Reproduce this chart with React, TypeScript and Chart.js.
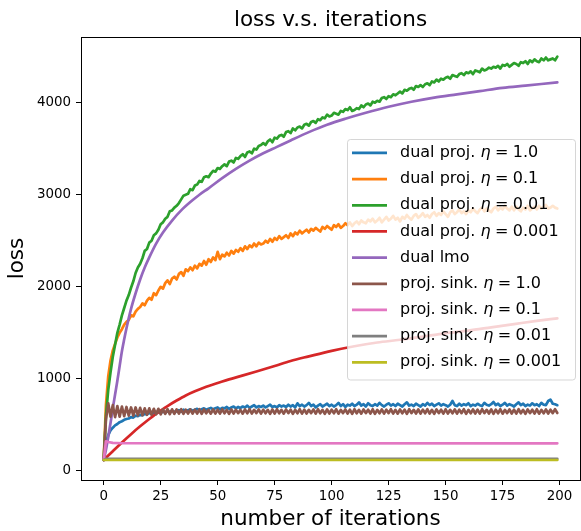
import React, { useEffect, useRef } from "react";
import { Chart, registerables } from "chart.js";

Chart.register(...registerables);

// ---------------- data ----------------
const iterations: number[] = Array.from({ length: 200 }, (_, i) => i);

const xTicks = [0, 25, 50, 75, 100, 125, 150, 175, 200];
const yTicks = [0, 1000, 2000, 3000, 4000];

// dual proj. eta = 1.0 (blue)
const dualProj1 = [
  120, 300, 390, 440, 470, 495, 510, 530, 540, 555,
  565, 570, 585, 580, 600, 595, 610, 605, 620, 615,
  630, 620, 635, 625, 640, 630, 645, 635, 650, 640,
  655, 640, 650, 660, 645, 665, 650, 660, 670, 655,
  665, 675, 660, 670, 680, 665, 675, 685, 670, 680,
  690, 670, 685, 680, 695, 675, 690, 700, 680, 695,
  685, 700, 690, 710, 685, 700, 715, 690, 705, 695,
  710, 690, 705, 720, 695, 705, 690, 715, 700, 710,
  695, 720, 700, 715, 690, 735, 705, 720, 700, 715,
  740, 705, 720, 690, 710, 725, 700, 715, 730, 705,
  720, 700, 715, 740, 705, 725, 695, 720, 710, 730,
  705, 720, 745, 710, 725, 700, 735, 715, 705, 725,
  710, 740, 715, 700, 720, 735, 710, 725, 705, 730,
  715, 700, 725, 745, 710, 720, 705, 730, 715, 700,
  725, 710, 740, 715, 730, 705, 720, 735, 710, 725,
  715, 700, 720, 760, 715, 705, 730, 710, 725, 715,
  735, 705, 720, 710, 730, 715, 705, 740, 720, 710,
  725, 750, 715, 730, 705, 720, 740, 710, 725, 715,
  700, 725, 745, 715, 730, 705, 720, 710, 735, 715,
  725, 705, 740, 720, 715, 760, 775, 730, 725, 715,
];

// dual proj. eta = 0.1 (orange)
const dualProj01 = [
  120, 720, 1030, 1200, 1310, 1380, 1450, 1500, 1540, 1590,
  1620, 1640, 1690, 1680, 1730, 1760, 1780, 1820, 1800, 1850,
  1880, 1860, 1930, 1910, 1960, 2000, 1980, 2040, 2070, 2030,
  2090, 2110, 2080, 2140, 2160, 2120, 2190, 2170, 2210, 2180,
  2230, 2200, 2250, 2230, 2280, 2240, 2300, 2270, 2320, 2290,
  2380, 2300, 2350, 2330, 2370, 2340, 2390, 2360, 2400, 2380,
  2420, 2390, 2440, 2410, 2450, 2430, 2470, 2440, 2480, 2460,
  2470, 2500, 2480, 2520, 2490, 2530, 2510, 2550, 2520, 2540,
  2560, 2530, 2580, 2550, 2590, 2570, 2610, 2580, 2600, 2620,
  2590, 2630, 2610, 2640, 2620, 2600, 2650, 2630, 2660, 2640,
  2620, 2670, 2650, 2680, 2640, 2660, 2690, 2670, 2700, 2660,
  2690, 2710, 2680, 2720, 2700, 2690, 2730, 2710, 2740, 2700,
  2720, 2750, 2700, 2730, 2760, 2720, 2740, 2770, 2730, 2750,
  2710, 2760, 2740, 2780, 2750, 2730, 2770, 2790, 2750, 2770,
  2800, 2760, 2780, 2750, 2790, 2810, 2770, 2800, 2780, 2820,
  2790, 2760, 2810, 2830, 2790, 2810, 2840, 2800, 2820, 2790,
  2830, 2810, 2850, 2820, 2800, 2840, 2860, 2820, 2850, 2830,
  2810, 2850, 2870, 2830, 2860, 2840, 2880, 2850, 2830, 2870,
  2830, 2870, 2840, 2820, 2860, 2840, 2880, 2830, 2850, 2870,
  2840, 2880, 2850, 2870, 2890, 2850, 2860, 2880, 2860, 2850,
];

// dual proj. eta = 0.01 (green)
const dualProj001 = [
  120, 600, 880, 1070, 1240, 1370, 1500, 1590, 1690, 1770,
  1850, 1910, 1990, 2060, 2150, 2210, 2250, 2310, 2390, 2410,
  2480, 2500, 2560, 2580, 2620, 2680, 2700, 2740, 2760, 2820,
  2830, 2860, 2880, 2910, 2950, 2990, 3000, 3010, 3060, 3050,
  3100, 3110, 3150, 3140, 3190, 3200, 3190, 3230, 3260, 3250,
  3290, 3280, 3310, 3330, 3310, 3360, 3370, 3350, 3400, 3390,
  3420, 3440, 3410, 3460, 3470, 3450, 3500, 3490, 3530, 3540,
  3560, 3540, 3580, 3600, 3570, 3620, 3610, 3640, 3650, 3630,
  3680, 3690, 3670, 3720, 3700, 3730, 3740, 3720, 3760, 3770,
  3750, 3790, 3800, 3780, 3820, 3810, 3840, 3830, 3870, 3850,
  3860, 3890, 3880, 3870, 3910, 3900, 3930, 3920, 3950, 3910,
  3920, 3940, 3930, 3970, 3950, 3980, 3990, 3970, 4010, 4000,
  4020, 4010, 4050, 4060, 4040, 4070, 4060, 4090, 4080, 4100,
  4120, 4100, 4140, 4130, 4150, 4160, 4140, 4180, 4170, 4190,
  4170, 4200, 4210, 4190, 4230, 4220, 4250, 4230, 4260, 4250,
  4270, 4280, 4260, 4300, 4290, 4280, 4310, 4320, 4300, 4330,
  4320, 4340, 4310, 4350, 4340, 4330, 4370, 4350, 4360, 4380,
  4370, 4390, 4380, 4400, 4370, 4410, 4400, 4420, 4390, 4410,
  4430, 4420, 4400, 4440, 4430, 4450, 4420, 4460, 4440, 4470,
  4450, 4440, 4480, 4460, 4490, 4460, 4470, 4480, 4460, 4500,
];

// dual proj. eta = 0.001 (red, smooth)
const dualProj0001Iters = [0, 4, 8, 12, 16, 20, 24, 28, 32, 36, 40, 45, 50, 55, 60, 67, 75, 82, 90, 100, 110, 120, 130, 140, 150, 160, 170, 180, 190, 199];
const dualProj0001 = [119, 215, 310, 400, 485, 565, 640, 705, 765, 820, 865, 915, 955, 995, 1030, 1080, 1140, 1195, 1245, 1305, 1355, 1395, 1425, 1460, 1495, 1525, 1560, 1595, 1630, 1658];

// dual lmo (purple, smooth)
const dualLmoIters = [0, 1, 2, 3, 4, 5, 6, 7, 8, 9, 10, 12, 14, 16, 18, 20, 23, 26, 30, 34, 38, 42, 46, 52, 58, 64, 70, 76, 82, 90, 98, 106, 115, 125, 135, 145, 155, 165, 175, 185, 199];
const dualLmo = [119, 230, 370, 520, 680, 830, 980, 1140, 1300, 1430, 1550, 1760, 1930, 2080, 2210, 2320, 2470, 2590, 2720, 2830, 2920, 3000, 3070, 3180, 3280, 3370, 3450, 3520, 3590, 3680, 3760, 3825, 3890, 3955, 4010, 4055, 4090, 4125, 4160, 4185, 4220];

// proj. sink. eta = 1.0 (brown)
const projSink1 = [
  120, 560, 735, 590, 715, 585, 705, 590, 700, 595,
  695, 600, 690, 600, 690, 605, 685, 605, 680, 610,
  680, 610, 675, 615, 675, 615, 670, 620, 672, 618,
  670, 620, 668, 622, 670, 620, 666, 624, 668, 622,
  666, 624, 670, 620, 668, 626, 664, 622, 668, 624,
  666, 622, 670, 626, 664, 620, 668, 624, 666, 628,
  664, 622, 668, 626, 670, 624, 664, 628, 668, 622,
  666, 626, 664, 620, 668, 624, 670, 626, 664, 622,
  668, 628, 666, 620, 664, 626, 670, 622, 666, 624,
  664, 628, 668, 622, 670, 626, 664, 620, 668, 624,
  666, 626, 670, 622, 664, 628, 668, 624, 666, 620,
  670, 626, 664, 622, 668, 628, 666, 624, 670, 620,
  664, 626, 668, 622, 666, 628, 670, 624, 664, 622,
  668, 626, 666, 620, 670, 628, 664, 624, 668, 622,
  666, 626, 670, 624, 664, 620, 668, 628, 666, 622,
  670, 624, 664, 626, 668, 622, 666, 628, 670, 620,
  664, 626, 668, 624, 666, 622, 670, 628, 664, 624,
  668, 620, 666, 626, 670, 622, 664, 628, 668, 624,
  666, 622, 670, 626, 664, 620, 668, 628, 666, 624,
  670, 622, 664, 626, 668, 624, 666, 628, 670, 630,
];

// proj. sink. eta = 0.1 (pink)
const projSink01Iters = [0, 1, 2, 4, 8, 199];
const projSink01 = [119, 322, 315, 306, 301, 300];

// proj. sink. eta = 0.01 (gray)
const projSink001Iters = [0, 1, 199];
const projSink001 = [119, 132, 132];

// proj. sink. eta = 0.001 (olive)
const projSink0001Iters = [0, 199];
const projSink0001 = [119, 119];

const seriesNames = ["dual proj.", "dual proj.", "dual proj.", "dual proj.", "dual lmo", "proj. sink.", "proj. sink.", "proj. sink.", "proj. sink."];
const seriesEta = ["1.0", "0.1", "0.01", "0.001", "", "1.0", "0.1", "0.01", "0.001"];
const seriesColors = ["#1f77b4", "#ff7f0e", "#2ca02c", "#d62728", "#9467bd", "#8c564b", "#e377c2", "#7f7f7f", "#bcbd22"];
const seriesSmooth = [false, false, false, true, true, false, false, false, false];

const seriesX = [iterations, iterations, iterations, dualProj0001Iters, dualLmoIters, iterations, projSink01Iters, projSink001Iters, projSink0001Iters];
const seriesY = [dualProj1, dualProj01, dualProj001, dualProj0001, dualLmo, projSink1, projSink01, projSink001, projSink0001];

const FONT = "'DejaVu Sans'";

const legendPlugin = {
  id: "mplLegend",
  afterDatasetsDraw(chart: any) {
    const { ctx, chartArea } = chart;
    const w = 228;
    const h = 240.5;
    const x0 = chartArea.right - 5.5 - w;
    const y0 = (chartArea.top + chartArea.bottom) / 2 - h / 2 + 0.5;
    ctx.save();
    ctx.beginPath();
    (ctx as any).roundRect(Math.round(x0) + 0.5, Math.round(y0) + 0.5, w, h, 3);
    ctx.fillStyle = "rgba(255,255,255,0.8)";
    ctx.fill();
    ctx.strokeStyle = "rgba(204,204,204,0.8)";
    ctx.lineWidth = 1;
    ctx.stroke();
    const rowH = 26.17;
    for (let i = 0; i < seriesNames.length; i++) {
      const cy = y0 + 14.2 + i * rowH;
      ctx.beginPath();
      ctx.moveTo(x0 + 5.5, cy);
      ctx.lineTo(x0 + 40.5, cy);
      ctx.strokeStyle = seriesColors[i];
      ctx.lineWidth = 2.7;
      ctx.lineCap = "butt";
      ctx.stroke();
      ctx.fillStyle = "#000";
      ctx.textBaseline = "middle";
      ctx.textAlign = "left";
      let tx = x0 + 53.5;
      ctx.font = `16px ${FONT}`;
      const prefix = seriesNames[i] + " ";
      ctx.fillText(prefix, tx, cy);
      if (seriesEta[i]) {
        tx += ctx.measureText(prefix).width;
        ctx.font = `italic 16px ${FONT}`;
        ctx.fillText("\u03b7", tx, cy);
        tx += ctx.measureText("\u03b7").width + 4.4;
        ctx.font = `16px ${FONT}`;
        ctx.fillText("=", tx, cy);
        tx += ctx.measureText("=").width + 4.4;
        ctx.fillText(seriesEta[i], tx, cy);
      }
    }
    ctx.restore();
  },
};

export default function App() {
  const ref = useRef<HTMLCanvasElement | null>(null);
  useEffect(() => {
    if (!ref.current) return;
    const datasets = seriesY.map((ys, i) => ({
      label: seriesNames[i] + (seriesEta[i] ? " \u03b7 = " + seriesEta[i] : ""),
      data: ys.map((y, j) => ({ x: seriesX[i][j], y })),
      borderColor: seriesColors[i],
      backgroundColor: seriesColors[i],
      borderWidth: 2.7,
      pointRadius: 0,
      tension: 0,
      cubicInterpolationMode: seriesSmooth[i] ? ("monotone" as const) : ("default" as const),
      fill: false,
      borderJoinStyle: "round" as const,
      borderCapStyle: "round" as const,
      order: seriesY.length - i,
      xAxisID: "x",
      yAxisID: "y",
    }));
    const chart = new Chart(ref.current, {
      type: "line",
      data: { datasets },
      plugins: [legendPlugin],
      options: {
        animation: false,
        responsive: false,
        devicePixelRatio: 1,
        layout: { padding: 0 },
        plugins: { legend: { display: false }, tooltip: { enabled: false }, title: { display: false } },
        scales: {
          x: {
            type: "linear",
            position: "bottom",
            min: -9.95,
            max: 208.95,
            afterBuildTicks: (s: any) => { s.ticks = xTicks.map((v) => ({ value: v })); },
            afterFit: (s: any) => { s.height = 51; },
            grid: { display: true, drawOnChartArea: false, drawTicks: true, tickLength: 5, color: "#000", lineWidth: 1 },
            border: { display: true, color: "#000", width: 1 },
            ticks: { font: { family: FONT, size: 13.4 }, color: "#000", padding: 3, maxRotation: 0, autoSkip: false, callback: (v: any) => String(v) },
            title: { display: true, text: "number of iterations", color: "#000", font: { family: FONT, size: 21.5, lineHeight: 1 }, padding: { top: 0, bottom: 0.75 } },
          },
          xTop: {
            type: "linear",
            position: "top",
            min: -9.95,
            max: 208.95,
            afterFit: (s: any) => { s.height = 37; },
            grid: { display: false },
            border: { display: true, color: "#000", width: 1 },
            ticks: { display: false },
            title: { display: true, text: "loss v.s. iterations", color: "#000", font: { family: FONT, size: 21.5, lineHeight: 1 }, padding: { top: 9.5, bottom: 0 } },
          },
          y: {
            type: "linear",
            position: "left",
            min: -98,
            max: 4713,
            afterBuildTicks: (s: any) => { s.ticks = yTicks.map((v) => ({ value: v })); },
            afterFit: (s: any) => { s.width = 81; },
            grid: { display: true, drawOnChartArea: false, drawTicks: true, tickLength: 5, color: "#000", lineWidth: 1 },
            border: { display: true, color: "#000", width: 1 },
            ticks: { font: { family: FONT, size: 13.4 }, color: "#000", padding: 5, callback: (v: any) => String(v) },
            title: { display: true, text: "loss", color: "#000", font: { family: FONT, size: 21.5, lineHeight: 1 }, padding: { top: 6.75, bottom: 0 } },
          },
          yRight: {
            type: "linear",
            position: "right",
            afterFit: (s: any) => { s.width = 1; },
            grid: { display: false },
            border: { display: true, color: "#000", width: 1 },
            ticks: { display: false },
          },
        },
      } as any,
    });
    return () => chart.destroy();
  }, []);
  return (
    <div style={{ position: "fixed", left: 0, top: 0, width: 581, height: 531, background: "#fff" }}>
      <canvas ref={ref} width={581} height={531} style={{ display: "block" }} />
    </div>
  );
}
